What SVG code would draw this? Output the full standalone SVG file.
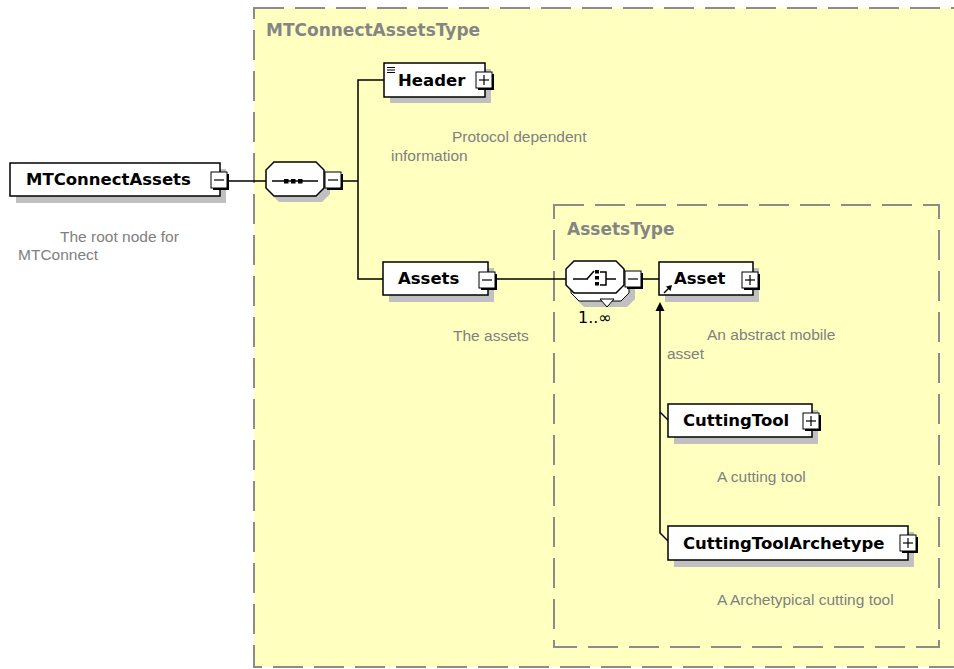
<svg xmlns="http://www.w3.org/2000/svg" width="954" height="669" viewBox="0 0 954 669">
<style>
.cont{fill:#FFFFC0;stroke:#8c8c8c;stroke-width:2;stroke-dasharray:30 11}
.box{fill:#fff;stroke:#000;stroke-width:1.5}
.shadow{fill:#c0c0c0}
.lbl{font-family:"DejaVu Sans",sans-serif;font-weight:bold;font-size:16.5px;fill:#000}
.desc{font-family:"Liberation Sans",sans-serif;font-size:15.5px;fill:#808080}
.title{font-family:"DejaVu Sans",sans-serif;font-weight:bold;font-size:17px;fill:#858585}
.conn{stroke:#000;stroke-width:1.5;fill:none}
.icon{stroke:#000;stroke-width:1.5;fill:none}
</style>
<defs>
<g id="minus"><rect x="2" y="2" width="16" height="16" fill="#000"/><rect x="0" y="0" width="16" height="16" fill="#fff" stroke="#000" stroke-width="1"/><line x1="3" y1="8" x2="13" y2="8" stroke="#000" stroke-width="1.2"/></g>
<g id="plus"><rect x="2" y="2" width="16" height="16" fill="#000"/><rect x="0" y="0" width="16" height="16" fill="#fff" stroke="#000" stroke-width="1"/><line x1="3" y1="8" x2="13" y2="8" stroke="#000" stroke-width="1.2"/><line x1="8" y1="3" x2="8" y2="13" stroke="#000" stroke-width="1.2"/></g>
</defs>
<rect x="0" y="0" width="954" height="669" fill="#fff"/>
<g id="MTConnectAssetsType">
<rect class="cont" x="254" y="8" width="720" height="659"/>
<text class="title" x="266" y="36">MTConnectAssetsType</text>
</g>
<g id="AssetsType">
<rect class="cont" x="554" y="205" width="385" height="442"/>
<text class="title" x="567" y="235">AssetsType</text>
</g>
<g id="connectors">
<line class="conn" x1="226" y1="181" x2="266" y2="181"/>
<line class="conn" x1="340" y1="181" x2="358" y2="181"/>
<polyline class="conn" points="384,80 358,80 358,279 384,279"/>
<line class="conn" x1="494" y1="279" x2="566" y2="279"/>
<line class="conn" x1="640" y1="279" x2="659" y2="279"/>
<polyline class="conn" points="660,310 660,533 668,541"/>
<line class="conn" x1="660" y1="412" x2="668" y2="420"/>
<polygon points="660,302 655.5,311 664.5,311" fill="#000"/>
</g>
<g id="node-MTConnectAssets">
<rect class="shadow" x="16" y="169" width="210" height="34"/>
<rect class="box" x="10" y="163" width="210" height="33"/>
<text class="lbl" x="26" y="185">MTConnectAssets</text>
<use href="#minus" x="211" y="172"/>
<text class="desc" x="60" y="242">The root node for</text>
<text class="desc" x="18" y="260">MTConnect</text>
</g>
<g id="node-sequence">
<path class="shadow" d="M279,168 H322 L330,176 V194 L322,202 H279 L271,194 V176 Z"/>
<path class="box" d="M274,162 H316 L324,170 V188 L316,196 H274 L266,188 V170 Z"/>
<line class="icon" x1="272" y1="181" x2="318" y2="181"/>
<rect x="284" y="179" width="4.5" height="4.5" fill="#000"/>
<rect x="291" y="179" width="4.5" height="4.5" fill="#000"/>
<rect x="298" y="179" width="4.5" height="4.5" fill="#000"/>
<use href="#minus" x="325" y="172"/>
</g>
<g id="node-Header">
<rect class="shadow" x="390" y="69" width="101" height="34"/>
<rect class="box" x="384" y="63" width="101" height="34"/>
<line x1="387" y1="67.5" x2="395" y2="67.5" stroke="#000" stroke-width="1"/>
<line x1="387" y1="70" x2="395" y2="70" stroke="#000" stroke-width="1"/>
<line x1="387" y1="72.5" x2="395" y2="72.5" stroke="#000" stroke-width="1"/>
<text class="lbl" x="398" y="86">Header</text>
<use href="#plus" x="476" y="72"/>
<text class="desc" x="452" y="142">Protocol dependent</text>
<text class="desc" x="391" y="161">information</text>
</g>
<g id="node-Assets">
<rect class="shadow" x="389" y="268" width="105" height="34"/>
<rect class="box" x="383" y="262" width="105" height="33"/>
<text class="lbl" x="398" y="284">Assets</text>
<use href="#minus" x="479" y="272"/>
<text class="desc" x="453" y="341">The assets</text>
</g>
<g id="node-choice">
<path class="shadow" d="M584,273 H627 L635,281 V299 L627,307 H584 L576,299 V281 Z"/>
<path fill="#fff" stroke="#000" stroke-width="1" d="M579,267 H621 L629,275 V293 L621,301 H579 L571,293 V275 Z"/>
<polygon points="600,299 614,299 607,307" fill="#fff" stroke="#000" stroke-width="1"/>
<path class="box" d="M574,261 H616 L624,269 V285 L616,293 H574 L566,285 V269 Z"/>
<line class="icon" x1="573" y1="279" x2="588" y2="279"/>
<line class="icon" x1="587" y1="279" x2="594" y2="271"/>
<rect x="595" y="270" width="4" height="3.5" fill="#000"/>
<rect x="595" y="276" width="4" height="3.5" fill="#000"/>
<rect x="595" y="282" width="4" height="3.5" fill="#000"/>
<polyline class="icon" points="600,272 606,272 606,285 600,285" stroke-width="1.2"/>
<line class="icon" x1="606" y1="279" x2="616" y2="279" stroke-width="1.2"/>
<use href="#minus" x="625" y="271"/>
<text x="578" y="323" font-family="DejaVu Sans,sans-serif" font-size="16" fill="#000">1..∞</text>
</g>
<g id="node-Asset">
<rect class="shadow" x="665" y="268" width="94" height="34"/>
<rect class="box" x="659" y="262" width="94" height="33"/>
<line x1="664" y1="293" x2="669" y2="288" stroke="#000" stroke-width="1.5"/>
<polygon points="672,285 666,286.5 670.5,291" fill="#000"/>
<text class="lbl" x="674" y="284">Asset</text>
<use href="#plus" x="742" y="272"/>
<text class="desc" x="707" y="340">An abstract mobile</text>
<text class="desc" x="667" y="359">asset</text>
</g>
<g id="node-CuttingTool">
<rect class="shadow" x="674" y="410" width="144" height="34"/>
<rect class="box" x="668" y="404" width="144" height="33"/>
<text class="lbl" x="683" y="426">CuttingTool</text>
<use href="#plus" x="803" y="413"/>
<text class="desc" x="717" y="482">A cutting tool</text>
</g>
<g id="node-CuttingToolArchetype">
<rect class="shadow" x="674" y="532" width="240" height="35"/>
<rect class="box" x="668" y="526" width="240" height="34"/>
<text class="lbl" x="683" y="549">CuttingToolArchetype</text>
<use href="#plus" x="900" y="535"/>
<text class="desc" x="717" y="605">A Archetypical cutting tool</text>
</g>
</svg>
